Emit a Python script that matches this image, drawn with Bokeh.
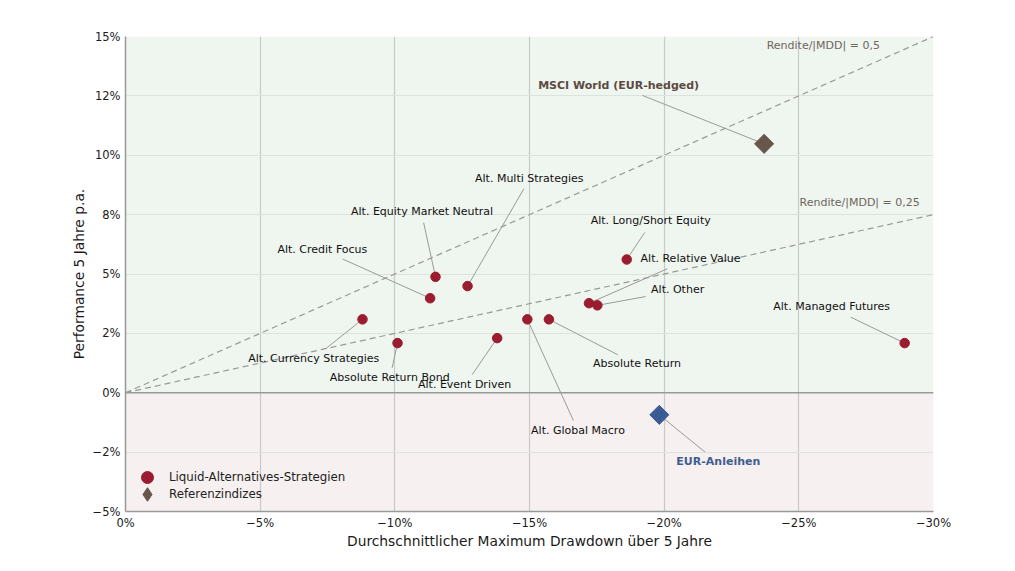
import numpy as np
from bokeh.plotting import figure
from bokeh.models import (Range1d, FixedTicker, BoxAnnotation, Span, Legend, LegendItem,
                          ColumnDataSource)
from bokeh.core.properties import value
from bokeh.embed import file_html
from bokeh.resources import INLINE

# ---------------- data ----------------
strategies = ["Alt. Equity Market Neutral", "Alt. Multi Strategies", "Alt. Credit Focus",
              "Alt. Currency Strategies", "Absolute Return Bond", "Alt. Event Driven",
              "Alt. Global Macro", "Absolute Return", "Alt. Long/Short Equity",
              "Alt. Relative Value", "Alt. Other", "Alt. Managed Futures"]
strat_mdd = [-11.51, -12.70, -11.31, -8.80, -10.10, -13.80, -14.92, -15.72, -18.61, -17.21, -17.52, -28.93]
strat_perf = [4.88, 4.49, 3.98, 3.09, 2.09, 2.30, 3.09, 3.09, 5.61, 3.77, 3.68, 2.09]

indices = ["MSCI World (EUR-hedged)", "EUR-Anleihen"]
index_mdd = [-23.71, -19.82]
index_perf = [10.48, -0.93]

ratios = [0.5, 0.25]
ratio_labels = ["Rendite/|MDD| = 0,5", "Rendite/|MDD| = 0,25"]

legend_labels = ["Liquid-Alternatives-Strategien", "Referenzindizes"]

x_ticks = [0, -5, -10, -15, -20, -25, -30]
x_tick_labels = ["0%", "\u22125%", "\u221210%", "\u221215%", "\u221220%", "\u221225%", "\u221230%"]
y_ticks = [-5, -2.5, 0, 2.5, 5, 7.5, 10, 12.5, 15]
y_tick_labels = ["\u22125%", "\u22122%", "0%", "2%", "5%", "8%", "10%", "12%", "15%"]

# ---------------- label placement (layout, data coordinates) ----------------
strat_label_x = [-11.01, -14.99, -7.31, -6.99, -9.81, -12.59, -16.80, -18.99, -19.50, -20.98, -20.50, -26.22]
strat_label_y = [7.63, 9.02, 6.03, 1.43, 0.63, 0.34, -1.57, 1.23, 7.25, 5.65, 4.34, 3.63]
strat_line_x = [-11.07, -14.79, -8.06, -7.46, -9.90, -12.87, -16.63, -18.28, -19.28, -20.12, -19.31, -26.93]
strat_line_y = [7.16, 8.59, 5.63, 1.88, 1.05, 0.76, -1.17, 1.60, 6.75, 5.22, 4.05, 3.18]

index_label_x = [-18.31, -22.01]
index_label_y = [12.94, -2.88]
index_line_x = [-19.19, -21.52]
index_line_y = [12.52, -2.50]
index_colors = ["#66564c", "#3a5b94"]
index_text_colors = ["#5b4b42", "#3f5d8f"]

ratio_label_x = [-28.01, -29.49]
ratio_label_y = [14.62, 8.01]

RED = "#9b1c2e"
BROWN = "#66564c"
FONT = "DejaVu Sans"

p = figure(width=1000, height=560, output_backend="svg", toolbar_location=None,
           x_range=Range1d(0, -30), y_range=Range1d(-5, 15),
           min_border_left=125, min_border_right=67, min_border_top=36, min_border_bottom=49)
p.outline_line_color = None
p.background_fill_color = "white"

# background regions
p.add_layout(BoxAnnotation(bottom=0, fill_color="#eff5ef", fill_alpha=1, line_alpha=0, level="image"))
p.add_layout(BoxAnnotation(top=0, fill_color="#f6f0f0", fill_alpha=1, line_alpha=0, level="image"))

# grids
p.xgrid.grid_line_color = "#c9c9c9"
p.xgrid.grid_line_width = 1.2
p.ygrid.grid_line_color = "#dce3dc"
p.ygrid.grid_line_width = 1

# axes
for ax in (p.xaxis[0], p.yaxis[0]):
    ax.axis_line_color = "#999999"
    ax.axis_line_width = 1.5
    ax.major_tick_line_color = None
    ax.minor_tick_line_color = None
    ax.major_tick_out = 0
    ax.major_tick_in = 0
    ax.major_label_text_font = FONT
    ax.major_label_text_font_size = "11.5px"
    ax.major_label_text_color = "#1a1a1a"
    ax.axis_label_text_font = FONT
    ax.axis_label_text_font_size = "13.8px"
    ax.axis_label_text_font_style = "normal"
    ax.axis_label_text_color = "#1a1a1a"

p.xaxis.ticker = FixedTicker(ticks=x_ticks)
p.xaxis.major_label_overrides = dict(zip(x_ticks, x_tick_labels))
p.yaxis.ticker = FixedTicker(ticks=y_ticks)
p.yaxis.major_label_overrides = dict(zip(y_ticks, y_tick_labels))
p.xaxis.axis_label = "Durchschnittlicher Maximum Drawdown über 5 Jahre"
p.yaxis.axis_label = "Performance 5 Jahre p.a."
p.xaxis.major_label_standoff = 4
p.xaxis.axis_label_standoff = 0
p.yaxis.major_label_standoff = 5
p.yaxis.axis_label_standoff = 3

# zero line
p.add_layout(Span(location=0, dimension="width", line_color="#999999", line_width=1.5))

# ratio lines
for r in ratios:
    p.line([0, -30], [0, r * 30], line_color="#999999", line_width=1.2, line_dash="6 4")
p.text(ratio_label_x, ratio_label_y, text=ratio_labels, text_align="right", text_baseline="middle",
       text_font=value(FONT), text_font_size=value("11px"), text_color="#6e6660")

# leader lines
p.segment(strat_line_x, strat_line_y, strat_mdd, strat_perf, line_color="#9a9a9a", line_width=1)
p.segment(index_line_x, index_line_y, index_mdd, index_perf, line_color="#9a9a9a", line_width=1)

# markers
src_s = ColumnDataSource(dict(x=strat_mdd, y=strat_perf))
r_s = p.scatter("x", "y", source=src_s, marker="circle", size=9.5, fill_color=RED, line_color=RED)
src_i = ColumnDataSource(dict(x=index_mdd, y=index_perf, c=index_colors))
p.scatter("x", "y", source=src_i, marker="square", angle=np.pi / 4, size=13.5,
          fill_color="c", line_color="c")
# hidden twin used only for the legend symbol of the reference indices
r_i_leg = p.scatter("x", "y", source=src_i, marker="diamond", size=14,
                    fill_color=BROWN, line_color=BROWN, visible=False)

# labels
p.text(strat_label_x, strat_label_y, text=strategies, text_align="center", text_baseline="middle",
       text_font=value(FONT), text_font_size=value("11px"), text_color="#111111")
p.text(index_label_x, index_label_y, text=indices, text_align="center", text_baseline="middle",
       text_font=value(FONT), text_font_size=value("11px"), text_font_style="bold",
       text_color=index_text_colors)

# legend (two single-item legends so the symbols can be large yet close together)
leg_common = dict(padding=0, spacing=0, background_fill_alpha=0, border_line_alpha=0,
                  label_text_font=FONT, label_text_font_size="11.8px", label_text_color="#222222",
                  inactive_fill_alpha=0)
leg1 = Legend(items=[LegendItem(label=legend_labels[0], renderers=[r_s])],
              location=(7, 19), glyph_height=30, glyph_width=30, label_standoff=7, **leg_common)
leg2 = Legend(items=[LegendItem(label=legend_labels[1], renderers=[r_i_leg], index=0)],
              location=(5, 0), glyph_height=34, glyph_width=34, label_standoff=5, **leg_common)
p.add_layout(leg1, "center")
p.add_layout(leg2, "center")

open("out.html", "w").write(file_html(p, INLINE))
